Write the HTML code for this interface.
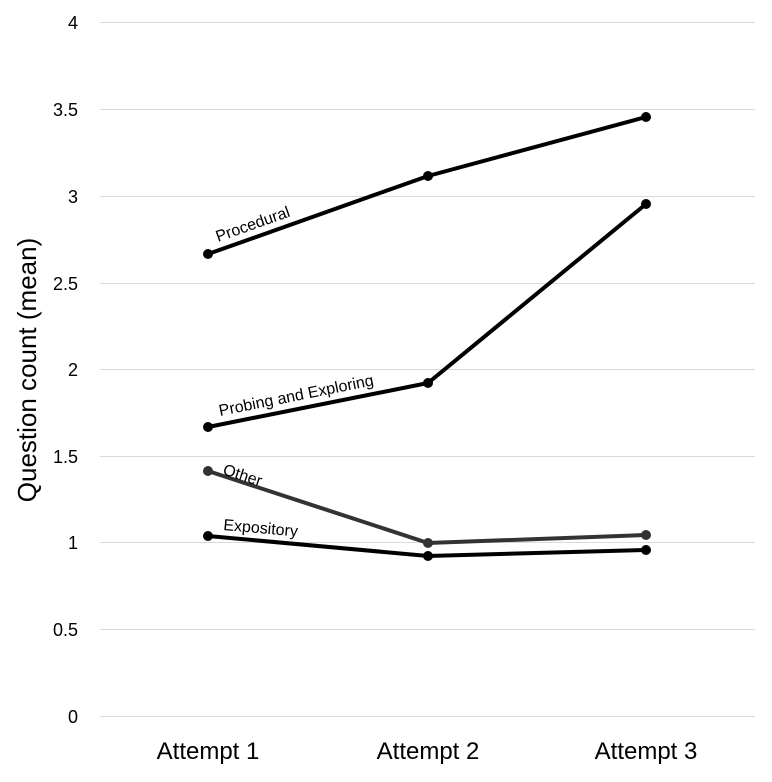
<!DOCTYPE html>
<html><head><meta charset="utf-8"><style>body{margin:0;background:#fff}svg{display:block}</style></head><body>
<svg width="772" height="782" xmlns="http://www.w3.org/2000/svg" font-family="Liberation Sans, sans-serif">
<g stroke="#d9d9d9" stroke-width="1">
<line x1="100" x2="755" y1="22.5" y2="22.5"/><line x1="100" x2="755" y1="109.5" y2="109.5"/>
<line x1="100" x2="755" y1="196.5" y2="196.5"/><line x1="100" x2="755" y1="283.5" y2="283.5"/>
<line x1="100" x2="755" y1="369.5" y2="369.5"/><line x1="100" x2="755" y1="456.5" y2="456.5"/>
<line x1="100" x2="755" y1="542.5" y2="542.5"/><line x1="100" x2="755" y1="629.5" y2="629.5"/>
<line x1="100" x2="755" y1="716.5" y2="716.5"/>
</g>
<g font-size="18" text-anchor="end" fill="#000">
<text x="78" y="29">4</text><text x="78" y="116">3.5</text><text x="78" y="203">3</text>
<text x="78" y="290">2.5</text><text x="78" y="376">2</text><text x="78" y="463">1.5</text>
<text x="78" y="549">1</text><text x="78" y="636">0.5</text><text x="78" y="723">0</text>
</g>
<g font-size="24" text-anchor="middle"><text x="208" y="759">Attempt 1</text><text x="428" y="759">Attempt 2</text><text x="646" y="759">Attempt 3</text></g>
<text transform="translate(36,370) rotate(-90)" font-size="26" text-anchor="middle">Question count (mean)</text>
<g fill="none" stroke-width="4">
<polyline stroke="#000" points="208,254 428,176 646,117"/>
<polyline stroke="#000" points="208,427 428,383 646,204"/>
<polyline stroke="#333" points="208,471 428,543 646,535"/>
<polyline stroke="#000" points="208,536 428,556 646,550"/>
</g>
<g fill="#000">
<circle cx="208" cy="254" r="5"/><circle cx="428" cy="176" r="5"/><circle cx="646" cy="117" r="5"/>
<circle cx="208" cy="427" r="5"/><circle cx="428" cy="383" r="5"/><circle cx="646" cy="204" r="5"/>
<circle cx="208" cy="471" r="5" fill="#333"/><circle cx="428" cy="543" r="5" fill="#333"/><circle cx="646" cy="535" r="5" fill="#333"/>
<circle cx="208" cy="536" r="5"/><circle cx="428" cy="556" r="5"/><circle cx="646" cy="550" r="5"/>
</g>
<g font-size="16">
<text transform="translate(218,242) rotate(-19.5)">Procedural</text>
<text transform="translate(220,416) rotate(-11.3)">Probing and Exploring</text>
<text transform="translate(222,474) rotate(18)">Other</text>
<text transform="translate(223,530) rotate(5)">Expository</text>
</g>
</svg>
</body></html>
